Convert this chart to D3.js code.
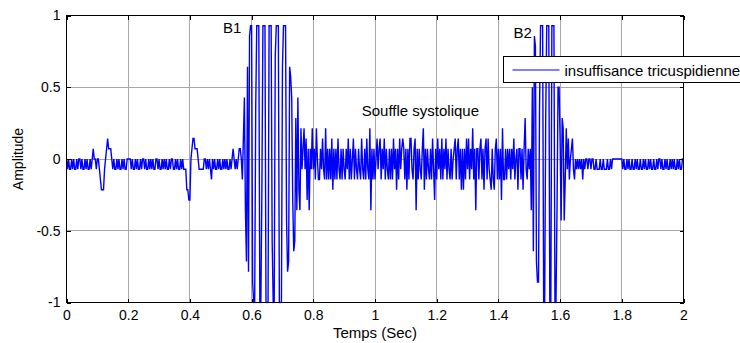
<!DOCTYPE html>
<html>
<head>
<meta charset="utf-8">
<script src="https://cdn.jsdelivr.net/npm/d3@7"></script>
<style>
	body { margin: 0; background: #ffffff; }
	text { font-family: "Liberation Sans", Arial, Helvetica, sans-serif; fill: #000000; }
</style>
</head>
<body>
<div id="chart"></div>
<script>
// Signal is sampled every sampleStep seconds and quantised in steps of 1/14
var sampleStep = 1 / 300;
var ampStep = 1 / 14;

// Baseline + small pre-cardiac bumps (0 - 0.557 s)
var lead = [
	0,-1,0,-1,-1,0,-1,0,-1,-1,
	0,-1,0,0,-1,0,-1,-1,0,-1,
	0,-1,-1,0,-1,0,1,0,0,-1,
	0,0,-1,-2,-3,-3,-3,-1,0,1,
	2,1,1,1,0,-1,0,-1,-1,0,
	-1,0,-1,-1,0,-1,0,-1,-1,0,
	0,0,0,-1,0,-1,-1,0,-1,0,
	-1,-1,0,-1,0,0,-1,0,-1,-1,
	0,-1,0,-1,0,-1,-1,0,0,-1,
	0,-1,-1,0,-1,0,-1,0,-1,-1,
	0,-1,0,0,-1,-1,0,-1,0,-1,
	-1,0,-1,0,-1,-1,-1,-3,-3,-4,
	-4,0,1,2,2,1,1,1,0,-1,
	-1,-1,-1,-1,0,0,-1,0,-1,0,
	-1,-2,0,-1,0,-1,-1,0,-1,0,
	-1,-1,0,-1,0,-1,0,-1,-1,0,
	-1,0,1,0,-1,0,-1,0
];
// First heart sound B1
var b1 = [
	1,1,0,-2,2,6,-5,-10,9,-11,
	12,13,13,-12,-14,-14,5,13,13,13,
	-14,-14,-3,13,13,13,-14,-14,-14,13,
	13,13,-8,-14,-14,10,13,13,13,-14,
	-14,-14,9,13,13,13,-6,-11,-10,9,
	8,6,-4,-9,-8,4,-5,6,-3,-5,
	3,-1,1,3,-1,2,-4,1,-5,1,
	-1,3
];
// Systolic murmur
var souffle = [
	-1,1,-2,3,0,-2,-2,1,-1,2,
	-1,-2,3,-2,1,-2,1,-2,2,-3,
	1,-2,1,-2,2,-1,-2,1,-2,1,
	-1,-2,1,-1,2,-2,1,-2,0,2,
	-2,1,-1,-2,1,-1,-2,2,-1,-2,
	1,-2,2,-1,-2,3,-5,1,-2,1,
	-2,0,2,-1,1,2,-2,1,-1,2,
	-2,1,-1,-2,1,-2,1,-2,2,-1,
	1,-3,1,-2,2,-1,1,2,1,-2,
	1,-3,1,-2,2,2,-1,-2,1,2,
	-5,1,-2,1,-1,-2,1,3,-3,1,
	-2,1,-1,-2,1,-2,2,-1,-4,1,
	-2,2,-1,1,-2,2,-2,1,-1,2,
	-2,1,-1,-2,1,-2,0,1,2,-2,
	1,2,-2,1,-3,1,-3,1,-2,2,
	-1,2,-2,1,-1,3,-2,1,-5,1,
	1,-2,1,2,-2,1,-3,1,2,-2,
	2,-1,-2,-3,1,-2,-3,1,2,-2,
	1,-2,1,-4,3,-2,-2,1,-2,1,
	-1,1,-2,1,-1,2,-2,0,1,-3,
	1,1,-2,1,-3,1,4,-1,-2
];
// Second heart sound B2
var b2 = [
	1,-1,1,-5,7,-9,12,11,-10,-12,
	-12,5,13,13,13,-14,-14,4,13,13,
	13,-14,-14,13,13,13,-14,-14,-5,7,
	7,2,-6,4,3,-6,-2,3,-1,2,
	-2,0,1,2,-1,-2,0,-1,0,-1,0
];
// Diastole baseline until 2 s
var tail = [
	-1,0,-2,0,-1,0,0,-1,0,0,
	-1,0,0,-1,-1,0,-1,-1,-1,0,
	-1,-1,0,-1,-1,-1,0,-1,-1,0,
	-1,0,0,0,0,0,0,0,0,0,
	0,-1,0,-1,-1,0,-1,0,-1,-1,
	0,-1,-1,0,-1,0,-1,-1,0,-1,
	-1,0,-1,0,-1,-1,0,-1,0,-1,
	-1,0,-1,-1,0,-1,0,0,-1,0,
	-1,-1,0,-1,0,-1,-1,0,-1,0,
	-1,0,-1,-1,0,-1,0,-1,-1,0,
	0
];

var xTicks = [0, 0.2, 0.4, 0.6, 0.8, 1, 1.2, 1.4, 1.6, 1.8, 2];
var yTicks = [-1, -0.5, 0, 0.5, 1];

var seriesName = "insuffisance tricuspidienne";
var notes = [
	{ text : "B1", t : 0.507, amp : 0.88 },
	{ text : "B2", t : 1.449, amp : 0.845 },
	{ text : "Souffle systolique", t : 0.957, amp : 0.30 }
];

var width = 740, height = 343;
var plot = { left : 66.5, right : 683.5, top : 15.5, bottom : 302.5 };

var samples = lead.concat(b1, souffle, b2, tail).map(function(v, i){
	return { t : i * sampleStep, amp : v * ampStep };
});

var x = d3.scaleLinear().domain([0, 2]).range([plot.left, plot.right]);
var y = d3.scaleLinear().domain([-1, 1]).range([plot.bottom, plot.top]);
var fmt = function(d){ return String(d); };

var svg = d3.select("#chart").append("svg")
	.attr("width", width)
	.attr("height", height);

svg.append("rect")
	.attr("width", width).attr("height", height)
	.attr("fill", "#ffffff");

// Grid
var grid = svg.append("g").attr("shape-rendering", "crispEdges");
grid.selectAll(".gx").data(xTicks.slice(1, -1)).enter().append("line")
	.attr("x1", x).attr("x2", x)
	.attr("y1", plot.top).attr("y2", plot.bottom)
	.attr("stroke", "#a8a8a8");
grid.selectAll(".gy").data(yTicks.slice(1, -1)).enter().append("line")
	.attr("y1", y).attr("y2", y)
	.attr("x1", plot.left).attr("x2", plot.right)
	.attr("stroke", "#a8a8a8");

// Signal
svg.append("clipPath").attr("id", "plotClip")
	.append("rect")
	.attr("x", plot.left).attr("y", plot.top - 1)
	.attr("width", plot.right - plot.left).attr("height", plot.bottom - plot.top + 2);

svg.append("path")
	.datum(samples)
	.attr("clip-path", "url(#plotClip)")
	.attr("fill", "none")
	.attr("stroke", "#0000ff")
	.attr("stroke-width", 1.4)
	.attr("stroke-linejoin", "miter")
	.attr("d", d3.line()
		.x(function(d){ return x(d.t); })
		.y(function(d){ return y(d.amp); }));

// Axes (MATLAB style: inward ticks on all four sides)
var tickLen = 4;
svg.append("g")
	.attr("transform", "translate(0," + plot.bottom + ")")
	.call(d3.axisBottom(x).tickValues(xTicks).tickSize(-tickLen).tickPadding(8).tickFormat(fmt))
	.call(function(g){ g.select(".domain").remove(); });
svg.append("g")
	.attr("transform", "translate(0," + plot.top + ")")
	.call(d3.axisTop(x).tickValues(xTicks).tickSize(-tickLen).tickFormat(""))
	.call(function(g){ g.select(".domain").remove(); });
svg.append("g")
	.attr("transform", "translate(" + plot.left + ",0)")
	.call(d3.axisLeft(y).tickValues(yTicks).tickSize(-tickLen).tickPadding(6).tickFormat(fmt))
	.call(function(g){ g.select(".domain").remove(); });
svg.append("g")
	.attr("transform", "translate(" + plot.right + ",0)")
	.call(d3.axisRight(y).tickValues(yTicks).tickSize(-tickLen).tickFormat(""))
	.call(function(g){ g.select(".domain").remove(); });

svg.selectAll(".tick line").attr("stroke", "#000000").attr("shape-rendering", "crispEdges");
svg.selectAll(".tick text")
	.style("font-family", "'Liberation Sans', Arial, sans-serif")
	.style("font-size", "14px")
	.attr("fill", "#000000");

svg.append("rect")
	.attr("x", plot.left).attr("y", plot.top)
	.attr("width", plot.right - plot.left).attr("height", plot.bottom - plot.top)
	.attr("fill", "none")
	.attr("stroke", "#000000")
	.attr("shape-rendering", "crispEdges");

// Axis labels
svg.append("text")
	.attr("x", (plot.left + plot.right) / 2).attr("y", 338)
	.attr("text-anchor", "middle")
	.style("font-size", "15px")
	.text("Temps (Sec)");
svg.append("text")
	.attr("transform", "translate(23," + ((plot.top + plot.bottom) / 2) + ") rotate(-90)")
	.attr("text-anchor", "middle")
	.style("font-size", "14px")
	.text("Amplitude");

// Annotations
svg.selectAll(".note").data(notes).enter().append("text")
	.attr("x", function(d){ return x(d.t); })
	.attr("y", function(d){ return y(d.amp); })
	.style("font-size", "15px")
	.text(function(d){ return d.text; });

// Legend
var legend = svg.append("g").attr("transform", "translate(503.5,56.5)");
legend.append("rect")
	.attr("width", 260).attr("height", 26)
	.attr("fill", "#ffffff")
	.attr("stroke", "#000000")
	.attr("shape-rendering", "crispEdges");
legend.append("line")
	.attr("x1", 9).attr("x2", 56)
	.attr("y1", 13.5).attr("y2", 13.5)
	.attr("stroke", "#0000ff");
legend.append("text")
	.attr("x", 61).attr("y", 19)
	.style("font-size", "15px")
	.text(seriesName);
</script>
</body>
</html>
